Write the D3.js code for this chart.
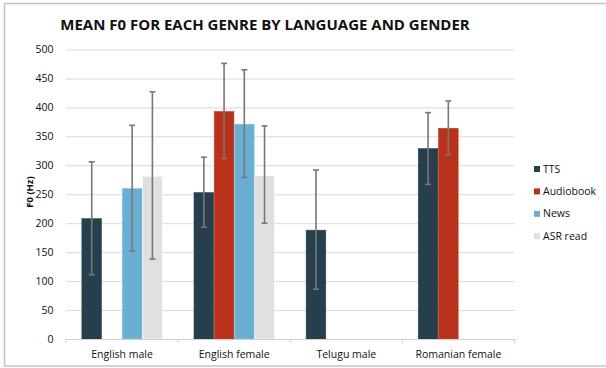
<!DOCTYPE html>
<html><head><meta charset="utf-8">
<script src="https://cdn.jsdelivr.net/npm/d3@7"></script>
<style>body{margin:0;background:#fff;}svg{display:block;font-family:"Open Sans",sans-serif;}</style>
</head><body><svg id="c" width="606" height="368"></svg>
<script>
const categories = ["English male","English female","Telugu male","Romanian female"];
const series = ["TTS","Audiobook","News","ASR read"];
const colors = ["#263f4c","#b93119","#6aafd1","#e0e0e0"];
// mean values per series, by category (null = no data)
const ttsMean = [208, 253, 188, 329];
const audiobookMean = [null, 393, null, 364];
const newsMean = [260, 371, null, null];
const asrMean = [281, 282, null, null];
// error bar low/high
const ttsLow = [111, 193, 86, 267];
const ttsHigh = [306, 314, 292, 391];
const audiobookLow = [null, 312, null, 318];
const audiobookHigh = [null, 476, null, 411];
const newsLow = [152, 279, null, null];
const newsHigh = [369, 465, null, null];
const asrLow = [138, 200, null, null];
const asrHigh = [427, 368, null, null];
const yTicks = [0,50,100,150,200,250,300,350,400,450,500];

const means = [ttsMean, audiobookMean, newsMean, asrMean];
const lows = [ttsLow, audiobookLow, newsLow, asrLow];
const highs = [ttsHigh, audiobookHigh, newsHigh, asrHigh];

const svg = d3.select("#c");
// frame
svg.append("rect").attr("x",4.5).attr("y",3.5).attr("width",620).attr("height",362.5)
  .attr("fill","none").attr("stroke","#c4c4c4").attr("stroke-width",1.5);

const pLeft = 66, pRight = 514.5, pTop = 49.5, pBottom = 339;
const x0 = d3.scaleBand().domain(categories).range([pLeft,pRight]).paddingInner(0).paddingOuter(0);
const x1 = d3.scaleBand().domain(series).range([15.6, x0.bandwidth()-15.6]).padding(0);
const y = d3.scaleLinear().domain([0,500]).range([pBottom, pTop]);

// gridlines
svg.append("g").selectAll("line").data(yTicks.filter(d=>d>0)).join("line")
  .attr("x1",pLeft).attr("x2",pRight).attr("y1",d=>y(d)+0.5).attr("y2",d=>y(d)+0.5)
  .attr("stroke","#d9d9d9").attr("stroke-width",1);

// y labels
svg.append("g").selectAll("text").data(yTicks).join("text")
  .attr("x",53.5).attr("y",d=>y(d)).attr("dy","0.35em").attr("text-anchor","end")
  .attr("font-size",10.5).attr("fill","#111").text(d=>d);

svg.append("text").attr("transform","translate(32.5,192) rotate(-90)")
  .attr("text-anchor","middle").attr("font-size",9.5).attr("font-weight","bold").attr("fill","#111").text("F0 (Hz)");

// bars
const barData = [];
categories.forEach((c,ci)=>series.forEach((s,si)=>{
  if(means[si][ci]!=null) barData.push({c,s,si,v:means[si][ci],lo:lows[si][ci],hi:highs[si][ci]});
}));
svg.append("g").selectAll("rect").data(barData).join("rect")
  .attr("x",d=>x0(d.c)+x1(d.s)+0.25).attr("width",x1.bandwidth()-0.5)
  .attr("y",d=>y(d.v)).attr("height",d=>y(0)-y(d.v))
  .attr("fill",d=>colors[d.si]).attr("stroke",d=>d3.color(colors[d.si]).brighter(0.4)).attr("stroke-width",0.5);

// x axis
svg.append("line").attr("x1",pLeft).attr("x2",pRight).attr("y1",pBottom+0.5).attr("y2",pBottom+0.5).attr("stroke","#d0d0d0");
svg.append("g").selectAll("line").data(d3.range(categories.length+1)).join("line")
  .attr("x1",i=>pLeft+i*x0.bandwidth()).attr("x2",i=>pLeft+i*x0.bandwidth())
  .attr("y1",pBottom).attr("y2",pBottom+4).attr("stroke","#d0d0d0");
svg.append("g").selectAll("text").data(categories).join("text")
  .attr("x",d=>x0(d)+x0.bandwidth()/2).attr("y",354).attr("dy","0.35em")
  .attr("text-anchor","middle").attr("font-size",10.5).attr("fill","#111").text(d=>d);

// error bars
const eb = svg.append("g").attr("stroke","#777").attr("stroke-width",1.6);
barData.forEach(d=>{
  const cx = x0(d.c)+x1(d.s)+x1.bandwidth()/2;
  eb.append("line").attr("x1",cx).attr("x2",cx).attr("y1",y(d.lo)).attr("y2",y(d.hi));
  eb.append("line").attr("x1",cx-3).attr("x2",cx+3).attr("y1",y(d.lo)).attr("y2",y(d.lo));
  eb.append("line").attr("x1",cx-3).attr("x2",cx+3).attr("y1",y(d.hi)).attr("y2",y(d.hi));
});

// legend
const lg = svg.append("g").selectAll("g").data(series).join("g")
  .attr("transform",(d,i)=>`translate(534,${169+i*22.4})`);
lg.append("rect").attr("x",0).attr("y",-3).attr("width",6).attr("height",6).attr("fill",(d,i)=>colors[i]);
lg.append("text").attr("x",9).attr("dy","0.35em").attr("font-size",10.5).attr("fill","#111").text(d=>d);

// title
svg.append("text").attr("x",265).attr("y",25).attr("dy","0.35em").attr("text-anchor","middle")
  .attr("font-size",15).attr("font-weight","bold").attr("letter-spacing",0).attr("fill","#111")
  .text("MEAN F0 FOR EACH GENRE BY LANGUAGE AND GENDER");
</script></body></html>
